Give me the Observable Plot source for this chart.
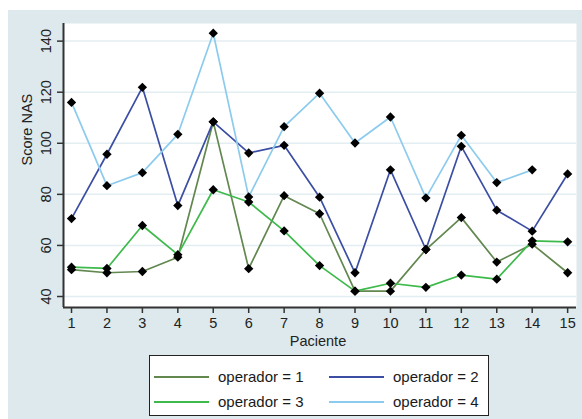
<!DOCTYPE html>
<html><head><meta charset="utf-8">
<script src="https://cdn.jsdelivr.net/npm/d3@7"></script>
<script src="https://cdn.jsdelivr.net/npm/@observablehq/plot@0.6"></script>
<style>
body{margin:0;background:#fff;font-family:"Liberation Sans",Arial,sans-serif;}
#wrap{position:absolute;left:8px;top:10px;width:574px;height:409px;background:#dde9ec;}
#legend{position:absolute;left:141px;top:345px;width:338px;height:59px;background:#fff;border:1px solid #222;}
.item{position:absolute;font-size:15px;color:#1a1a1a;line-height:1;}
.sw{position:absolute;height:2px;}
</style></head><body><div id="wrap"><div id="legend"></div></div>
<script>
const pacientes = [1,2,3,4,5,6,7,8,9,10,11,12,13,14,15];
const op1 = [50.5,49.3,49.8,55.4,108.4,50.9,79.5,72.4,42.1,42.1,58.4,70.9,53.5,60.5,49.3];
const op2 = [70.5,95.7,121.9,75.6,108.4,96.2,99.2,78.9,49.3,89.6,58.4,98.8,73.8,65.6,88.0];
const op3 = [51.5,51.0,67.8,56.4,81.8,77.0,65.7,52.1,42.1,45.2,43.6,48.4,46.8,61.8,61.4];
const op4 = [116.0,83.4,88.5,103.5,143.1,79.0,106.5,119.6,100.1,110.3,78.6,103.1,84.6,89.6,null];
const operadores = ["operador = 1","operador = 2","operador = 3","operador = 4"];
const colores = ["#62874f","#3b4ea3","#3dba4b","#8ccbee"];
const yTicks = [40,60,80,100,120,140];

const series = [op1,op2,op3,op4];
const rows = [];
series.forEach((s,k)=>s.forEach((v,i)=>{ if(v!=null) rows.push({p:pacientes[i], v, op:operadores[k]}); }));

const xDom = [0.774, 15.25], yDom = [35.7, 146.9];
const chart = Plot.plot({
  width:574, height:342,
  marginLeft:55, marginRight:6, marginTop:13, marginBottom:45,
  style:{background:"transparent", fontFamily:"Liberation Sans, Arial, sans-serif", color:"#222"},
  x:{domain:xDom},
  y:{domain:yDom},
  color:{domain:operadores, range:colores},
  marks:[
    Plot.frame({fill:"white", stroke:"none"}),
    Plot.ruleY(yTicks,{stroke:"#e3eef2", strokeWidth:1.5}),
    Plot.line(rows,{x:"p", y:"v", z:"op", stroke:"op", strokeWidth:1.7}),
    Plot.dot(rows,{x:"p", y:"v", symbol:"diamond2", r:4.2, fill:"black", stroke:"none"}),
    Plot.ruleX([xDom[0]],{stroke:"#333", strokeWidth:2}),
    Plot.ruleY([yDom[0]],{stroke:"#333", strokeWidth:2}),
    Plot.axisX({ticks:pacientes, tickSize:6, tickPadding:4, fontSize:14.5, stroke:"#333", strokeWidth:1.5, label:null}),
    Plot.axisY({ticks:yTicks, tickSize:6, tickPadding:11, fontSize:14.5, tickRotate:-90, textAnchor:"middle", lineAnchor:"middle", stroke:"#333", strokeWidth:1.5, label:null}),
    Plot.text(["Paciente"],{frameAnchor:"bottom", dy:34, dx:-2, fontSize:14.5, lineAnchor:"middle", fill:"#222"}),
    Plot.text(["Score NAS"],{frameAnchor:"left", dx:-36, rotate:-90, fontSize:14.5, lineAnchor:"middle", fill:"#222"})
  ]
});
document.getElementById("wrap").prepend(chart);

const lg = document.getElementById("legend");
const pos = [[4,68,21],[179,243,21],[4,68,46],[179,243,46]];
operadores.forEach((name,k)=>{
  const [sx,tx,cy] = pos[k];
  const sw = document.createElement("div");
  sw.className="sw";
  sw.style.left = sx+"px";
  sw.style.top = (cy-1)+"px";
  sw.style.width = "55px";
  sw.style.background = colores[k];
  lg.appendChild(sw);
  const t = document.createElement("div");
  t.className="item";
  t.textContent = name;
  t.style.left = tx+"px";
  t.style.top = (cy-8)+"px";
  lg.appendChild(t);
});
</script></body></html>
